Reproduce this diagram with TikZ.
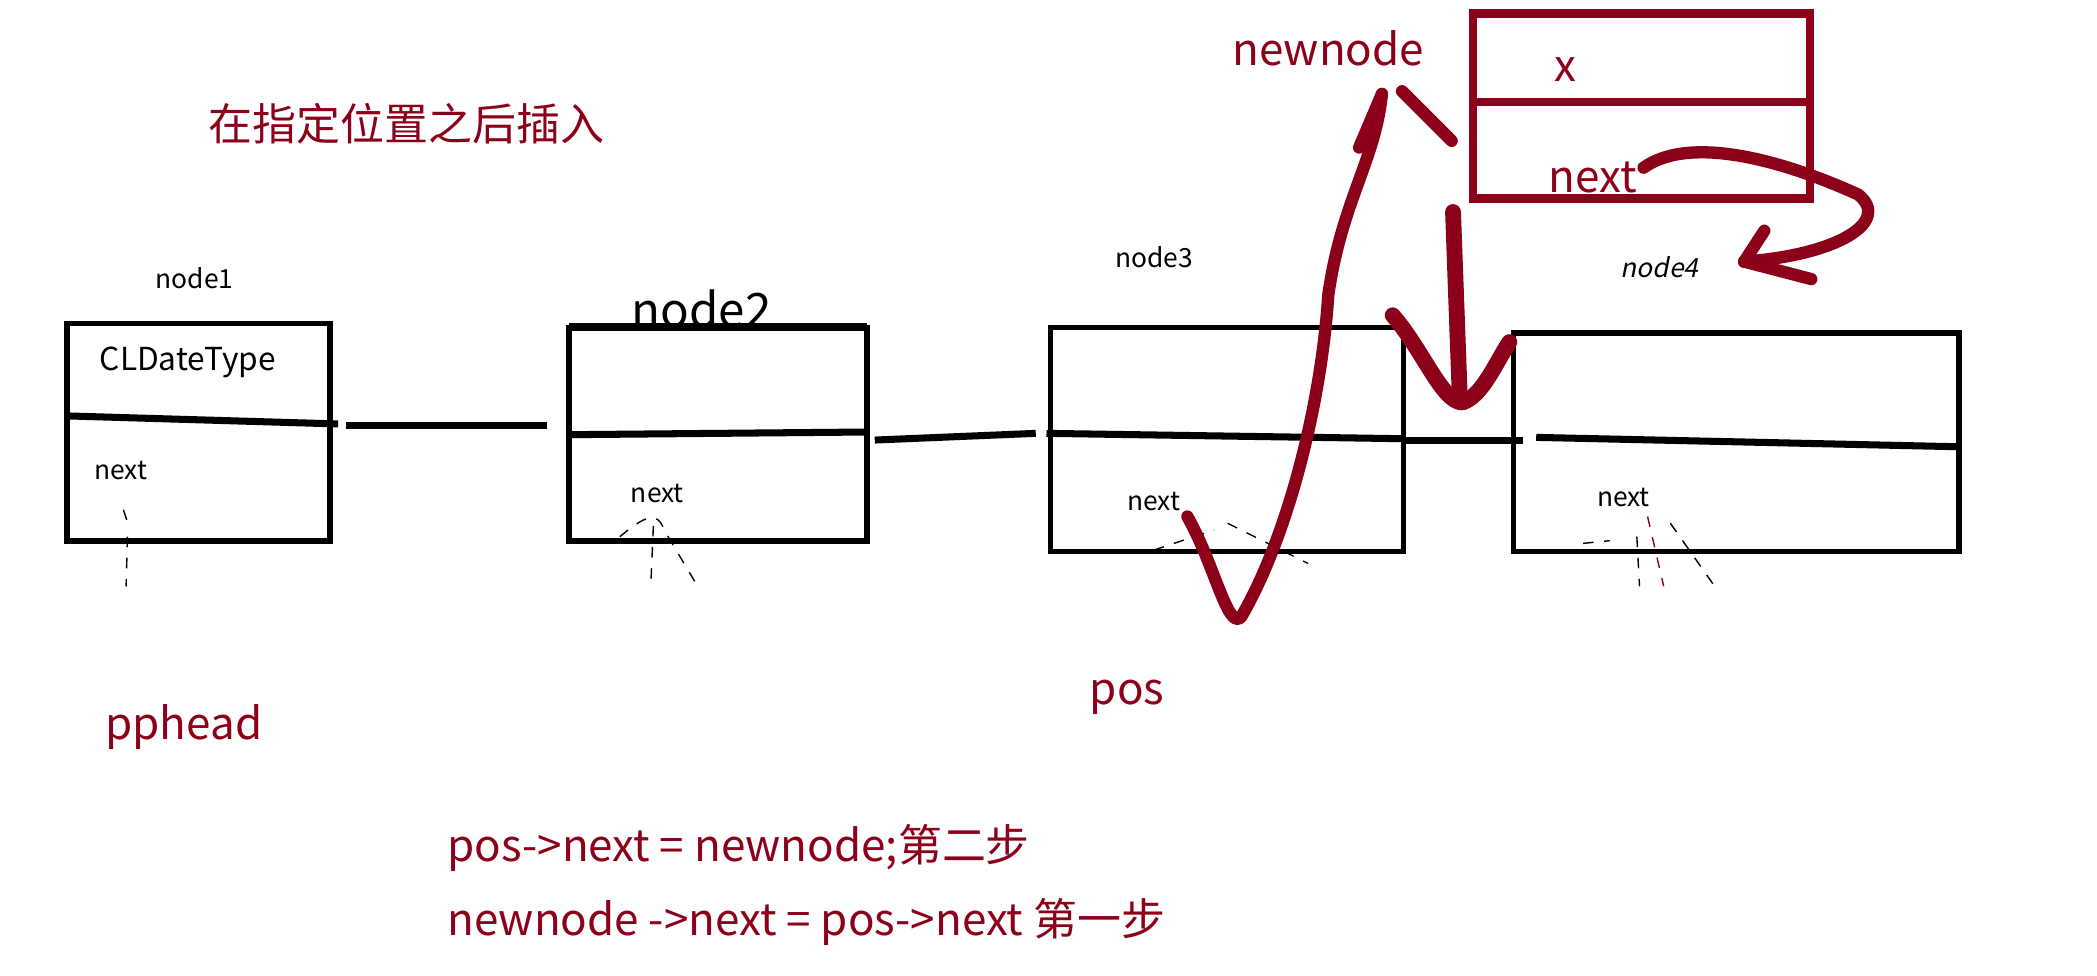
\documentclass[tikz,border=0pt]{standalone}
\usepackage{fontspec}
\setmainfont{Noto Sans CJK SC}
\begin{document}
\begin{tikzpicture}[x=0.013417cm,y=-0.013417cm,
  box/.style={draw=black,line width=1.6pt},
  link/.style={black,line width=2pt},
  rbox/.style={draw={rgb,255:red,140;green,0;blue,26},line width=2.4pt},
  red/.style={text={rgb,255:red,140;green,0;blue,26}},
  rl/.style={draw={rgb,255:red,140;green,0;blue,26},line width=3.5pt,line cap=round,line join=round},
  lbl/.style={inner sep=0pt,font=\fontsize{7.5pt}{9pt}\selectfont},
  rt/.style={red,inner sep=0pt,font=\fontsize{12.5pt}{15pt}\selectfont},
  dsh/.style={draw=black,line width=0.4pt,dashed}]
\useasboundingbox (0,0) rectangle (1563,727);
\fill[white] (0,0) rectangle (1563,727);
% boxes
\draw[box] (50,241) rectangle (246,403);
\draw[box] (424,244) rectangle (646,403);
\draw[box] (783,244) rectangle (1046,411);
\draw[box] (1128,248) rectangle (1460,411);
\coordinate (d1a) at (50,310); \coordinate (d1b) at (252,316);
\draw[link] (d1a) -- (d1b);
\coordinate (l1a) at (258,317); \coordinate (l1b) at (408,317);
\draw[link] (l1a) -- (l1b);
\coordinate (d2a) at (424,324); \coordinate (d2b) at (646,322);
\draw[link] (d2a) -- (d2b);
\coordinate (l2a) at (652,328); \coordinate (l2b) at (772,323);
\draw[link] (l2a) -- (l2b);
\coordinate (d3a) at (780,323); \coordinate (d3b) at (1046,327);
\draw[link] (d3a) -- (d3b);
\coordinate (l3a) at (1046,328); \coordinate (l3b) at (1135,328);
\draw[link] (l3a) -- (l3b);
\coordinate (d4a) at (1145,326); \coordinate (d4b) at (1460,333);
\draw[link] (d4a) -- (d4b);
\draw[box,line width=2.2pt] (424,244) -- (646,244);
% newnode box
\draw[rbox] (1098,10) rectangle (1349,148);
\coordinate (nda) at (1098,76); \coordinate (ndb) at (1352,76);
\draw[rbox] (nda) -- (ndb);
% labels
\node[lbl] (n1) at (145,207) {node1};
\node[inner sep=0pt,font=\fontsize{13.5pt}{15pt}\selectfont] (n2) at (523,230) {node2};
\node[lbl] (n3) at (860,192) {node3};
\node[lbl,font=\fontsize{7.5pt}{9pt}\selectfont\addfontfeature{FakeSlant=0.2}] (n4) at (1237,199) {node4};
\node[lbl,font=\fontsize{9pt}{10pt}\selectfont] (cl) at (140,270) {CLDateType};
\node[lbl] (x1) at (90,351) {next};
\node[lbl] (x2) at (490,368) {next};
\node[lbl] (x3) at (860,374) {next};
\node[lbl] (x4) at (1210,371) {next};
\node[rt] (xx) at (1167,52) {x};
\node[rt] (nx) at (1187,132) {next};
\node[rt] (nn) at (990,36) {newnode};
\node[rt] (tt) at (303,92) {在指定位置之后插入};
\node[rt] (ph) at (137,542) {pphead};
\node[rt] (ps) at (840,520) {pos};
\node[rt,anchor=west] (s1) at (333,632) {pos->next = newnode;第二步};
\node[rt,anchor=west] (s2) at (333,687) {newnode ->next = pos->next 第一步};
% dashed marks
\draw[dsh] (92,380) -- (96,392) (95,400) -- (94,437);
\draw[dsh] (462,400) .. controls (480,385) and (490,380) .. (495,395) -- (520,437);
\draw[dsh] (487,392) -- (485,437);
\draw[dsh] (860,410) -- (905,395) (915,390) -- (975,420);
\draw[dsh] (1180,405) -- (1200,403) (1245,390) -- (1278,437) (1220,400) -- (1222,437);
\draw[dsh,draw={rgb,255:red,140;green,0;blue,26}] (1228,385) -- (1240,437);
% red strokes
\coordinate (c1s) at (885,385); \coordinate (c1e) at (1030,70);
\draw[rl] (c1s) .. controls (905,420) and (915,470) .. (925,460)
  .. controls (960,400) and (985,300) .. (990,220) .. controls (1000,150) and (1025,120) .. (c1e);
\draw[rl] (1013,110) -- (c1e);
\draw[rl] (1045,68) -- (1082,105);
\coordinate (c2s) at (1083,158); \coordinate (c2e) at (1088,295);
\draw[rl,line width=4.5pt] (c2s) -- (c2e);
\draw[rl,line width=4.5pt] (1038,235) .. controls (1060,260) and (1075,300) .. (1090,300) .. controls (1105,295) and (1115,270) .. (1125,255);
\coordinate (c3s) at (1225,125); \coordinate (c3e) at (1300,195);
\draw[rl] (c3s) .. controls (1260,100) and (1330,120) .. (1385,145) .. controls (1410,165) and (1370,190) .. (c3e);
\draw[rl] (c3e) -- (1315,172);
\draw[rl] (c3e) -- (1350,208);
\end{tikzpicture}
\end{document}
